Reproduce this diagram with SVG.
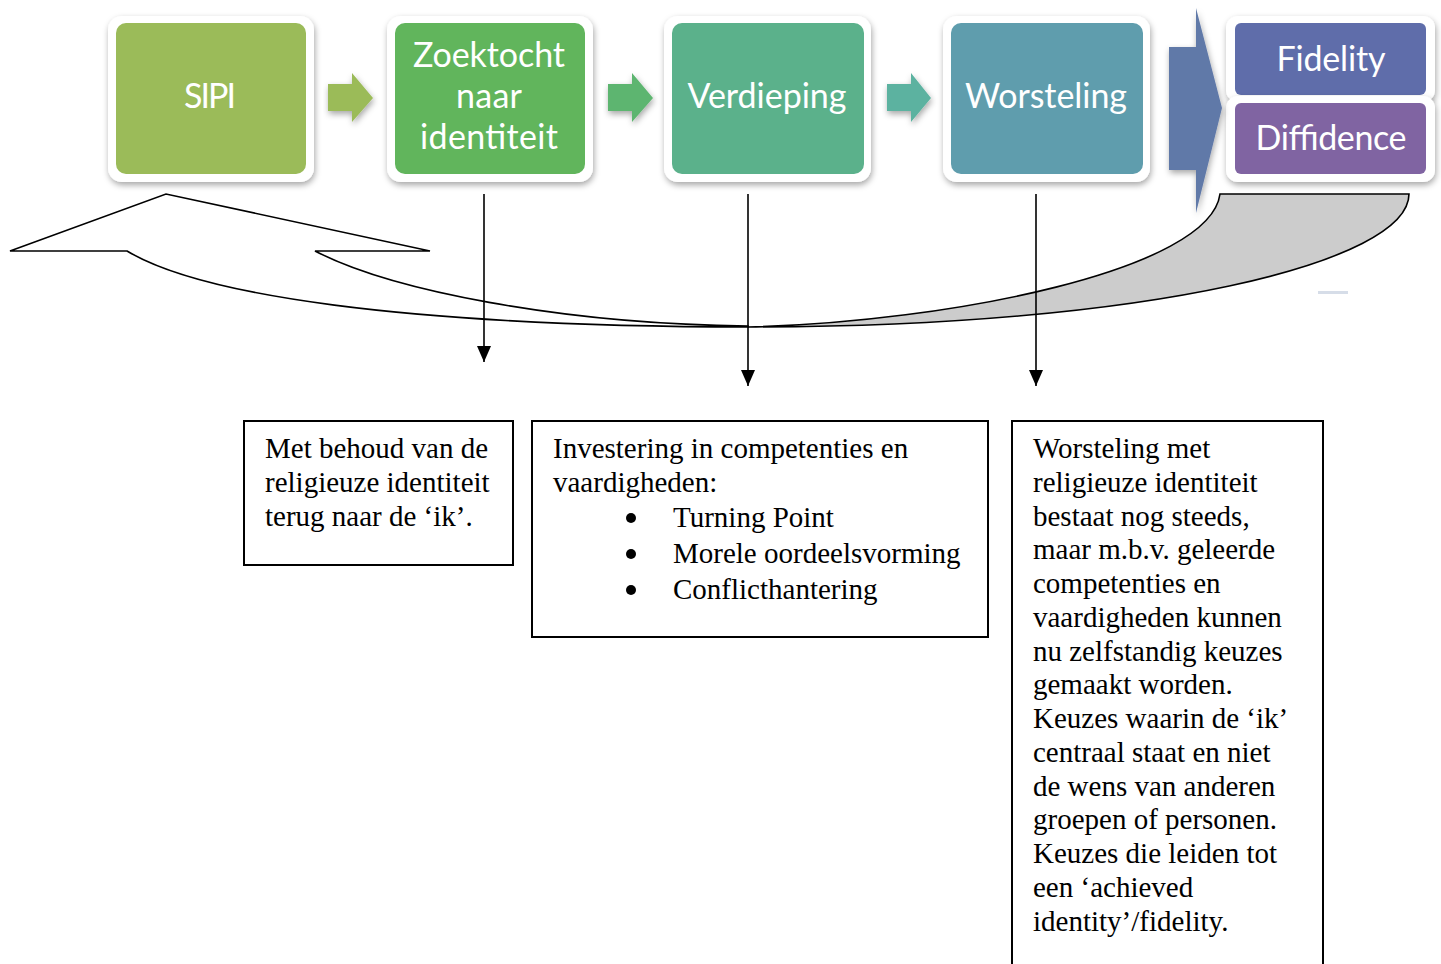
<svg xmlns="http://www.w3.org/2000/svg" width="1441" height="964" viewBox="0 0 1441 964">
<defs>
<filter id="sh" x="-10%" y="-10%" width="125%" height="130%">
<feDropShadow dx="1" dy="3" stdDeviation="3" flood-color="#000" flood-opacity="0.35"/>
</filter>
<marker id="ah" markerWidth="16" markerHeight="14" refX="16" refY="7" orient="auto" markerUnits="userSpaceOnUse" viewBox="0 0 16 14">
<path d="M0,0 L16,7 L0,14 Z" fill="#000"/>
</marker>
</defs>
<style>
.frame{fill:#fff;filter:url(#sh)}
.lbl{font-family:Lato,"Open Sans",sans-serif;font-size:34px;fill:#fff;text-anchor:middle}
.txt{font-family:"Liberation Serif","Times New Roman",serif;font-size:29px;fill:#000}
.box{fill:#fff;stroke:#000;stroke-width:2}
.conn{stroke:#000;stroke-width:1.6;fill:none}
.bul{fill:#000}
</style>

<g id="curved-arrow">
<path d="M127,251 L10,251 L166,194 L430,251 L315,251 C390,290 560,324 748,326 L748,327 C400,326 200,295 127,251 Z" fill="#fff" stroke="#000" stroke-width="1.6" stroke-linejoin="miter"/>
<path d="M1220,194 L1409,194 C1409,262 1150,327 748,327 C950,322 1210,270 1220,194 Z" fill="#cccccc" stroke="#000" stroke-width="1.6"/>
<rect x="1318" y="291" width="30" height="3" fill="#d6dde8"/>
</g>

<g id="node-sipi">
<rect class="frame" x="108" y="16" width="206" height="166" rx="14"/>
<rect x="116" y="23" width="190" height="151" rx="10" fill="#9bbb59"/>
<text class="lbl" x="210" y="108" textLength="52">SIPI</text>
</g>

<g id="node-zoektocht">
<rect class="frame" x="387" y="16" width="206" height="166" rx="14"/>
<rect x="395" y="23" width="190" height="151" rx="10" fill="#61b55c"/>
<text class="lbl" x="489" y="67" textLength="152">Zoektocht</text>
<text class="lbl" x="489" y="108" textLength="66">naar</text>
<text class="lbl" x="489" y="149" textLength="138">identiteit</text>
</g>

<g id="node-verdieping">
<rect class="frame" x="664" y="16" width="207" height="166" rx="14"/>
<rect x="672" y="23" width="192" height="151" rx="10" fill="#5bb18b"/>
<text class="lbl" x="767" y="108" textLength="159">Verdieping</text>
</g>

<g id="node-worsteling">
<rect class="frame" x="943" y="16" width="207" height="166" rx="14"/>
<rect x="951" y="23" width="192" height="151" rx="10" fill="#5f9dad"/>
<text class="lbl" x="1046" y="108" textLength="162">Worsteling</text>
</g>

<g id="node-fidelity">
<rect class="frame" x="1226" y="16" width="209" height="86" rx="12"/>
<rect x="1235" y="23" width="191" height="72" rx="6" fill="#5f6daa"/>
<text class="lbl" x="1331" y="71" textLength="109">Fidelity</text>
</g>

<g id="node-diffidence">
<rect class="frame" x="1226" y="96" width="209" height="86" rx="12"/>
<rect x="1235" y="103" width="191" height="71" rx="6" fill="#8064a2"/>
<text class="lbl" x="1331" y="150" textLength="151">Diffidence</text>
</g>

<g id="flow-arrows">
<polygon points="328,84 352,84 352,73 373,98 352,122 352,111 328,111" fill="#9bbb59" filter="url(#sh)"/>
<polygon points="608,84 632,84 632,73 653,98 632,122 632,111 608,111" fill="#5db56f" filter="url(#sh)"/>
<polygon points="887,84 911,84 911,73 931,98 911,122 911,111 887,111" fill="#5bb2a0" filter="url(#sh)"/>
<polygon points="1169,47 1196,47 1196,8 1222,108 1196,213 1196,170 1169,170" fill="#6079a8" filter="url(#sh)"/>
</g>

<g id="connectors">
<line class="conn" x1="484" y1="194" x2="484" y2="362" marker-end="url(#ah)"/>
<line class="conn" x1="748" y1="194" x2="748" y2="386" marker-end="url(#ah)"/>
<line class="conn" x1="1036" y1="194" x2="1036" y2="386" marker-end="url(#ah)"/>
</g>

<g id="note-1">
<rect class="box" x="244" y="421" width="269" height="144"/>
<text class="txt" x="265" y="458">Met behoud van de</text>
<text class="txt" x="265" y="492">religieuze identiteit</text>
<text class="txt" x="265" y="526">terug naar de ‘ik’.</text>
</g>

<g id="note-2">
<rect class="box" x="532" y="421" width="456" height="216"/>
<text class="txt" x="553" y="458">Investering in competenties en</text>
<text class="txt" x="553" y="492">vaardigheden:</text>
<circle class="bul" cx="631" cy="518" r="5"/>
<text class="txt" x="673" y="527">Turning Point</text>
<circle class="bul" cx="631" cy="554" r="5"/>
<text class="txt" x="673" y="563">Morele oordeelsvorming</text>
<circle class="bul" cx="631" cy="590" r="5"/>
<text class="txt" x="673" y="599">Conflicthantering</text>
</g>

<g id="note-3">
<rect class="box" x="1012" y="421" width="311" height="560"/>
<text class="txt" x="1033" y="458">Worsteling met</text>
<text class="txt" x="1033" y="491.75">religieuze identiteit</text>
<text class="txt" x="1033" y="525.5">bestaat nog steeds,</text>
<text class="txt" x="1033" y="559.25">maar m.b.v. geleerde</text>
<text class="txt" x="1033" y="593">competenties en</text>
<text class="txt" x="1033" y="626.75">vaardigheden kunnen</text>
<text class="txt" x="1033" y="660.5">nu zelfstandig keuzes</text>
<text class="txt" x="1033" y="694.25">gemaakt worden.</text>
<text class="txt" x="1033" y="728">Keuzes waarin de ‘ik’</text>
<text class="txt" x="1033" y="761.75">centraal staat en niet</text>
<text class="txt" x="1033" y="795.5">de wens van anderen</text>
<text class="txt" x="1033" y="829.25">groepen of personen.</text>
<text class="txt" x="1033" y="863">Keuzes die leiden tot</text>
<text class="txt" x="1033" y="896.75">een ‘achieved</text>
<text class="txt" x="1033" y="930.5">identity’/fidelity.</text>
</g>
</svg>
